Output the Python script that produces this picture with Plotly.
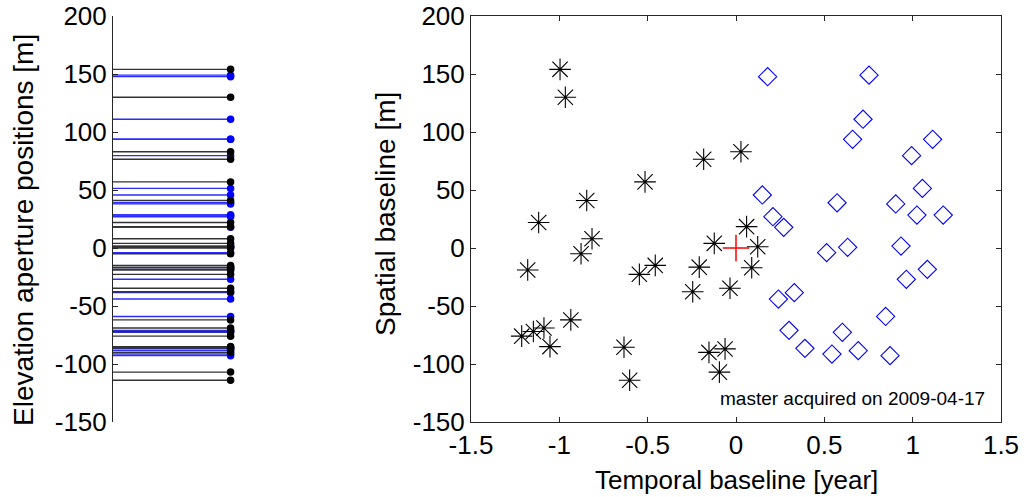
import plotly.graph_objects as go

# ---------------- data ----------------
# acquisitions before the master (black stars): temporal baseline [year], spatial baseline [m]
before_t = [-0.996, -0.966, -1.117, -0.845, -0.515, -0.815, -0.877, -1.179, -0.547, -0.457,
            -0.935, -1.213, -1.147, -1.087, -1.053, -0.634, -0.602, -0.208, -0.245, -0.183,
            0.028, 0.060, -0.123, 0.123, 0.089, -0.034, -0.153, -0.062, -0.094]
before_b = [154, 130, 22, 41, 57, 8, -5, -19, -22.7, -15,
            -62, -76, -72, -69, -85, -85.6, -114, -16.5, -37.7, 76.5,
            83, 18.4, 4, 1.1, -17, -34.7, -90, -87, -107]

# acquisitions after the master (blue diamonds)
after_t = [0.179, 0.753, 0.719, 0.660, 1.113, 0.994, 1.055, 0.149, 0.572, 0.904,
           1.024, 1.173, 0.209, 0.270, 0.513, 0.632, 0.934, 0.964, 1.083, 0.240,
           0.330, 0.847, 0.300, 0.602, 0.390, 0.543, 0.692, 0.872]
after_b = [147.7, 149, 111, 93.7, 93.7, 79.6, 51.4, 45.7, 39, 38,
           28.4, 28.4, 27, 17.8, -4, 0.6, 1.7, -27, -18.4, -44,
           -38.5, -59, -71, -72.7, -86.5, -91.4, -88.5, -92.8]

master_t = [0.0]
master_b = [0.0]

y_ticks = [-150, -100, -50, 0, 50, 100, 150, 200]
y_ticktext = ["-150", "-100", "-50", "0", "50", "100", "150", "200"]
x_ticks = [-1.5, -1.0, -0.5, 0.0, 0.5, 1.0, 1.5]
x_ticktext = ["-1.5", "-1", "-0.5", "0", "0.5", "1", "1.5"]

annotation_text = "master acquired on 2009-04-17"
x_title = "Temporal baseline [year]"
y_title_right = "Spatial baseline [m]"
y_title_left = "Elevation aperture positions [m]"

FONT = "Liberation Sans, Arial, sans-serif"
AX = "#262626"
W, H = 1026, 497


def stem_xy(vals):
    xs, ys = [], []
    for v in vals:
        xs += [0, 1, None]
        ys += [v, v, None]
    return xs, ys


fig = go.Figure()

# ---------------- left panel: elevation aperture positions ----------------
for vals, col, lcol in [(after_b, "blue", "#2b2bff"), (before_b + master_b, "black", "#333333")]:
    sx, sy = stem_xy(vals)
    fig.add_trace(go.Scatter(x=sx, y=sy, mode="lines", line=dict(color=lcol, width=1.4),
                             xaxis="x", yaxis="y", showlegend=False, hoverinfo="skip"))
    fig.add_trace(go.Scatter(x=[1] * len(vals), y=vals, mode="markers",
                             marker=dict(color=col, size=7.5, line=dict(width=0)),
                             xaxis="x", yaxis="y", showlegend=False))

# ---------------- right panel: baseline plot ----------------
fig.add_trace(go.Scatter(x=before_t, y=before_b, mode="markers",
                         marker=dict(symbol="asterisk-open", size=18, color="black",
                                     line=dict(color="black", width=1.1)),
                         xaxis="x2", yaxis="y2", showlegend=False))
fig.add_trace(go.Scatter(x=after_t, y=after_b, mode="markers",
                         marker=dict(symbol="diamond-open", size=14, color="blue",
                                     line=dict(color="blue", width=1.1)),
                         xaxis="x2", yaxis="y2", showlegend=False))
fig.add_trace(go.Scatter(x=master_t, y=master_b, mode="markers",
                         marker=dict(symbol="cross-thin-open", size=19, color="red",
                                     line=dict(color="red", width=1.5)),
                         xaxis="x2", yaxis="y2", showlegend=False))

ydom = [(H - 422) / H, (H - 16) / H]
tick_font = dict(family=FONT, size=26, color="black")

fig.update_layout(
    template="none",
    width=W, height=H,
    margin=dict(l=0, r=0, t=0, b=0, pad=0),
    paper_bgcolor="white", plot_bgcolor="white",
    font=dict(family=FONT, size=26, color="black"),
    xaxis=dict(domain=[113 / W, 240 / W], range=[0, 1.08], visible=False, automargin=False),
    yaxis=dict(domain=ydom, range=[-150, 200], tickvals=y_ticks, ticktext=y_ticktext,
               ticks="inside", ticklen=5, tickcolor=AX, showline=True, linecolor=AX,
               linewidth=1, showgrid=False, zeroline=False, automargin=False,
               tickfont=tick_font),
    xaxis2=dict(domain=[471 / W, 1001 / W], range=[-1.5, 1.5], tickvals=x_ticks,
                ticktext=x_ticktext, ticks="inside", ticklen=5, tickcolor=AX,
                showline=True, linecolor=AX, linewidth=1, mirror="allticks",
                showgrid=False, zeroline=False, anchor="y2", automargin=False,
                tickfont=tick_font),
    yaxis2=dict(domain=ydom, range=[-150, 200], tickvals=y_ticks, ticktext=y_ticktext,
                ticks="inside", ticklen=5, tickcolor=AX, showline=True, linecolor=AX,
                linewidth=1, mirror="allticks", showgrid=False, zeroline=False,
                anchor="x2", automargin=False, tickfont=tick_font),
    annotations=[
        dict(text=annotation_text, xref="paper", yref="paper", x=852.5 / W, y=(H - 398) / H,
             xanchor="center", yanchor="middle", showarrow=False,
             font=dict(family=FONT, size=19, color="black")),
        dict(text=x_title, xref="paper", yref="paper", x=736 / W, y=(H - 480) / H,
             xanchor="center", yanchor="middle", showarrow=False,
             font=dict(family=FONT, size=26, color="black")),
        dict(text=y_title_right, xref="paper", yref="paper", x=385 / W, y=(H - 214) / H,
             xanchor="center", yanchor="middle", showarrow=False, textangle=-90,
             font=dict(family=FONT, size=28, color="black")),
        dict(text=y_title_left, xref="paper", yref="paper", x=23 / W, y=(H - 230) / H,
             xanchor="center", yanchor="middle", showarrow=False, textangle=-90,
             font=dict(family=FONT, size=28, color="black")),
    ],
)

fig.write_html("out.html")
